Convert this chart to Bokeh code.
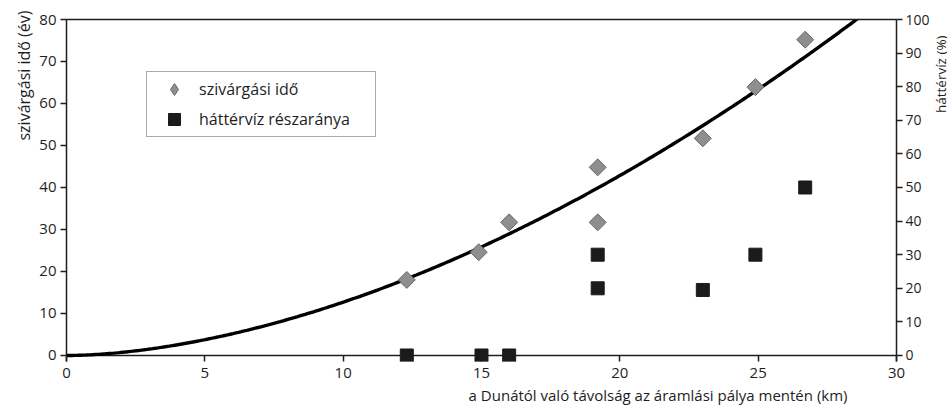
import numpy as np
from bokeh.plotting import figure
from bokeh.layouts import row
from bokeh.models import (Range1d, LinearAxis, SingleIntervalTicker, FixedTicker,
                          Span, Title, Legend, LegendItem, Label)
from bokeh.embed import file_html
from bokeh.resources import INLINE

# ---- data ----
dist_seep = [12.3, 14.9, 16.0, 19.2, 19.2, 23.0, 24.9, 26.7]
seep_time = [18.0, 24.6, 31.7, 44.8, 31.7, 51.7, 63.9, 75.2]
dist_bg = [12.3, 15.0, 16.0, 19.2, 19.2, 23.0, 24.9, 26.7]
bg_share = [0, 0, 0, 30, 20, 19.5, 30, 50]
# power-law trend line (y = c * x^p) as in the source chart
trend_c = 0.2238
trend_p = 1.754

x_label = "a Dunától való távolság az áramlási pálya mentén (km)"
y_label = "szivárgási idő (év)"
y2_label = "háttérvíz (%)"
legend_labels = ["szivárgási idő", "háttérvíz részaránya"]

FONT = "Open Sans"
TXT = "#1e1e1e"

p = figure(frame_width=830, frame_height=342,
           min_border_left=66, min_border_right=33, min_border_top=19, min_border_bottom=44,
           x_range=Range1d(0, 30), y_range=Range1d(-1.43, 80),
           output_backend="svg", toolbar_location=None)
p.extra_y_ranges = {"right": Range1d(-1.786, 100)}
p.xgrid.visible = False
p.ygrid.visible = False
p.outline_line_color = None
p.background_fill_color = "white"
p.border_fill_color = "white"

def style_axis(ax):
    ax.axis_line_color = TXT
    ax.axis_line_width = 1.5
    ax.major_tick_line_color = TXT
    ax.major_tick_line_width = 1.5
    ax.minor_tick_line_color = None
    ax.major_label_text_font = FONT
    ax.major_label_text_font_size = "15px"
    ax.major_label_text_color = TXT

# bottom axis: ticks pointing down from y=0 (frame bottom sits 6px below y=0)
xa = p.xaxis[0]
xa.ticker = SingleIntervalTicker(interval=5)
style_axis(xa)
xa.axis_line_color = None
xa.major_tick_in = 6
xa.major_tick_out = 0
xa.major_label_standoff = 2

ya = p.yaxis[0]
ya.ticker = SingleIntervalTicker(interval=10)
style_axis(ya)
ya.major_tick_out = 6
ya.major_tick_in = 0
ya.major_label_standoff = 4

ra = LinearAxis(y_range_name="right", ticker=SingleIntervalTicker(interval=10))
style_axis(ra)
ra.major_label_text_font_size = "14px"
ra.major_tick_out = 6
ra.major_tick_in = 0
ra.major_label_standoff = 3
p.add_layout(ra, "right")

ta = LinearAxis(ticker=FixedTicker(ticks=[]))
style_axis(ta)
ta.major_tick_out = 0
ta.major_tick_in = 0
p.add_layout(ta, "above")

p.add_layout(Span(location=0, dimension="width", line_color=TXT, line_width=1.5, level="underlay"))

# trend line
xs = np.linspace(0, 30, 300)
p.line(xs, trend_c * xs ** trend_p, line_color="black", line_width=3.4)

r_seep = p.scatter(dist_seep, seep_time, marker="square", angle=np.pi / 4, size=12,
                   fill_color="#8e8e8e", line_color="#6a6a6a", line_width=1)
r_bg = p.scatter(dist_bg, bg_share, y_range_name="right", marker="square", size=13,
                 fill_color="#1b1b1b", line_color="#1b1b1b", line_width=1)
# legend-only symbol (diamond) for the seepage-time series (no visible point)
r_leg = p.scatter(x=[np.nan], y=[np.nan], marker="diamond", size=12,
                  fill_color="#8e8e8e", line_color="#6a6a6a", line_width=1)

legend = Legend(items=[LegendItem(label=legend_labels[0], renderers=[r_leg]),
                       LegendItem(label=legend_labels[1], renderers=[r_bg])],
                location=(80, 224), margin=0, padding=2, spacing=0,
                glyph_height=30, label_height=30, glyph_width=50, label_standoff=0,
                label_width=174,
                label_text_font=FONT, label_text_font_size="16px", label_text_color=TXT,
                border_line_color="#555555", border_line_width=1,
                background_fill_color="white", background_fill_alpha=1)
p.add_layout(legend)

def make_title(text, size, align, offset):
    t = Title(text=text, align=align, offset=offset, text_font=FONT,
              text_font_size=size, text_font_style="normal", text_color=TXT)
    if "standoff" in Title.properties():
        t.standoff = 4
    return t

p.add_layout(make_title(x_label, "15px", "right", 49), "below")
p.add_layout(make_title(y_label, "16px", "right", -9), "left")

# narrow strip on the right carrying the secondary axis title (reads bottom-to-top)
p2 = figure(width=18, height=405, x_range=Range1d(0, 18), y_range=Range1d(0, 405),
            min_border_left=0, min_border_right=0, min_border_top=0, min_border_bottom=0,
            x_axis_location=None, y_axis_location=None,
            output_backend="svg", toolbar_location=None)
p2.outline_line_color = None
p2.xgrid.visible = False
p2.ygrid.visible = False
p2.background_fill_color = "white"
p2.border_fill_color = "white"
p2.add_layout(Label(x=8.5, y=340, text=y2_label, angle=np.pi / 2, text_align="center",
                    text_baseline="middle", text_font=FONT, text_font_size="13.5px",
                    text_color=TXT))

layout = row(p, p2, spacing=0)
open("out.html", "w").write(file_html(layout, INLINE))
